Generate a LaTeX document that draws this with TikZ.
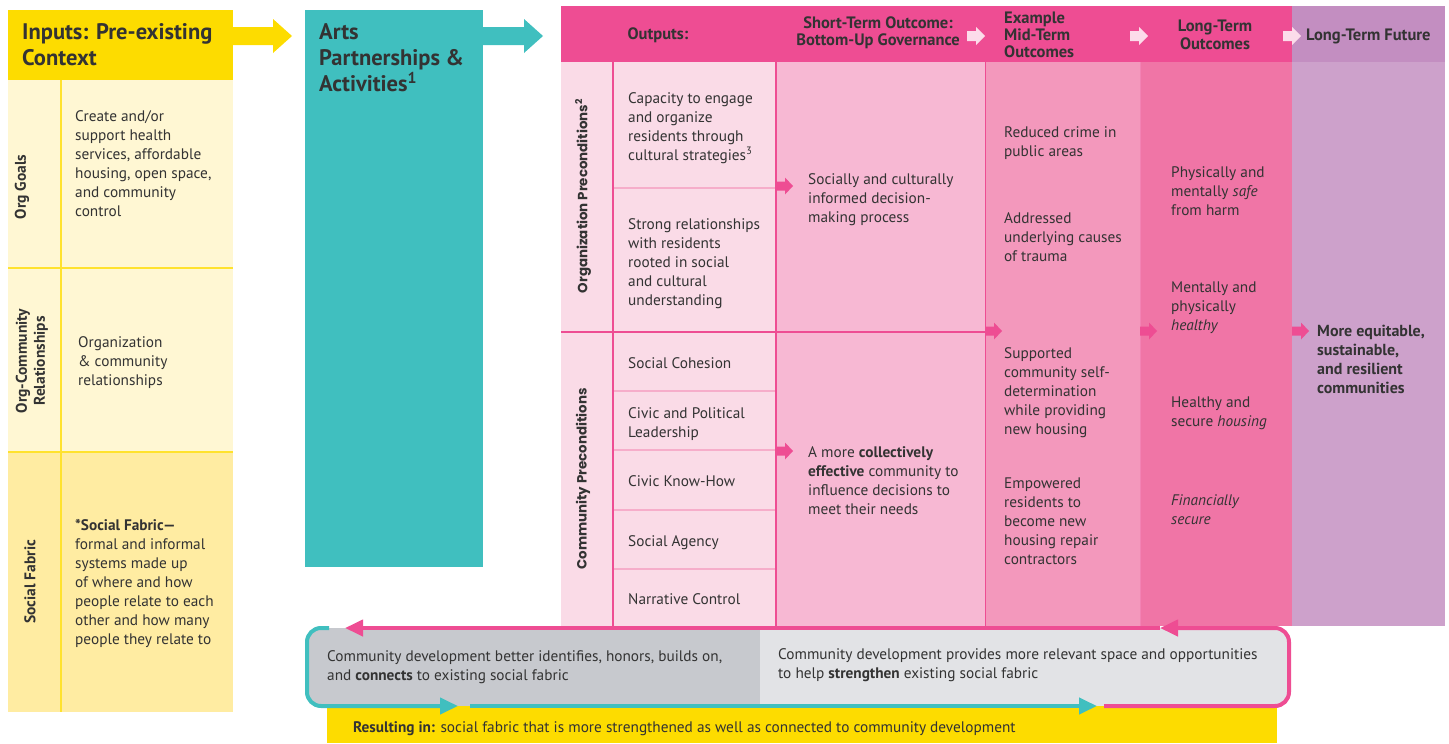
\documentclass[tikz,border=0pt]{standalone}
\usepackage{fontspec}
\setmainfont{PT Sans}
\newfontfamily\geofont{Poppins}
\usetikzlibrary{arrows.meta,calc,positioning}

\definecolor{inkgray}{HTML}{333333}
\definecolor{sunyellow}{HTML}{FDDC00}
\definecolor{paleyellow}{HTML}{FFF7D3}
\definecolor{softyellow}{HTML}{FFECA2}
\definecolor{ruleyellow}{HTML}{FFE22E}
\definecolor{aqua}{HTML}{40BFBF}
\definecolor{hotpink}{HTML}{EE4D93}
\definecolor{mauve}{HTML}{C38EC1}
\definecolor{blushA}{HTML}{FADBE7}
\definecolor{blushC}{HTML}{F7B8D3}
\definecolor{blushD}{HTML}{F398BC}
\definecolor{blushE}{HTML}{F075A6}
\definecolor{lilac}{HTML}{CDA1CB}
\definecolor{cellrule}{HTML}{F6ADCA}
\definecolor{paleblush}{HTML}{FCDCEA}
\definecolor{slate}{HTML}{C7C9CE}
\definecolor{mist}{HTML}{E2E3E6}

\begin{document}
\begin{tikzpicture}[x=1pt,y=-1pt,
	body/.style={anchor=north west,inner sep=0pt,align=left,text=inkgray,font=\fontsize{15.3}{19}\selectfont},
	boldbody/.style={body,font=\bfseries\fontsize{16}{19}\selectfont},
	headtext/.style={inner sep=0pt,text=inkgray,font=\bfseries\fontsize{16.5}{16.5}\selectfont},
	bigtitle/.style={anchor=north west,inner sep=0pt,align=left,text=inkgray,font=\bfseries\fontsize{22.5}{26}\selectfont},
	sidelabel/.style={rotate=90,inner sep=0pt,align=center,text=inkgray,font=\bfseries\fontsize{15.5}{18}\selectfont},
	precond/.style={rotate=90,inner sep=0pt,text=inkgray,font=\geofont\bfseries\fontsize{13.4}{15}\selectfont},
	loopline/.style={line width=4pt,rounded corners=14pt}]
	\useasboundingbox (0,0) rectangle (1449,744);

	%Inputs column
	\fill[sunyellow] (8,10) rectangle (233,80);
	\fill[paleyellow] (8,80) rectangle (233,452);
	\fill[softyellow] (8,452) rectangle (233,712);
	\draw[ruleyellow,line width=2pt] (61,80) -- (61,712);
	\foreach \yLine in {268,452}{
		\draw[ruleyellow,line width=2pt] (8,\yLine) -- (233,\yLine);
	}
	\node[bigtitle] (inputs) at (22,23) {Inputs: Pre-existing\\Context};
	\node[sidelabel] (orggoals) at (22,187) {Org Goals};
	\node[sidelabel] (orgcomm) at (32,361) {Org-Community\\Relationships};
	\node[sidelabel] (fabric) at (30,582) {Social Fabric};
	\node[body] (goalstext) at (75,110) {Create and/or\\support health\\services, affordable\\housing, open space,\\and community\\control};
	\node[body] (commtext) at (78,336) {Organization\\\& community\\relationships};
	\node[body] (fabrictext) at (75,519) {\textbf{*Social Fabric—}\\formal and informal\\systems made up\\of where and how\\people relate to each\\other and how many\\people they relate to};

	%big arrows
	\fill[sunyellow] (233,27) -- (273,27) -- (273,19) -- (292,36) -- (273,53) -- (273,45) -- (233,45) -- cycle;
	\fill[aqua] (483,27) -- (524,27) -- (524,19) -- (543,36) -- (524,53) -- (524,45) -- (483,45) -- cycle;

	%Arts column
	\fill[aqua] (305,10) rectangle (483,567);
	\node[bigtitle] (arts) at (319,23) {Arts\\Partnerships \&\\Activities\textsuperscript{1}};

	%header band
	\fill[hotpink] (561,6) rectangle (1292,62);
	\fill[mauve] (1292,6) rectangle (1445,62);
	\node[headtext] (outputs) at (658,35) {Outputs:};
	\node[headtext,align=center] (shortterm) at (878,33) {Short-Term Outcome:\\Bottom-Up Governance};
	\node[headtext,align=left,anchor=west,font=\bfseries\fontsize{16.5}{17}\selectfont] (midterm) at (1004,35) {Example\\Mid-Term\\Outcomes};
	\node[headtext,align=center,font=\bfseries\fontsize{16.5}{18}\selectfont] (longterm) at (1215,35) {Long-Term\\Outcomes};
	\node[headtext,anchor=west] (future) at (1306,36) {Long-Term Future};
	\foreach \xArrow in {967,1130,1283}{
		\fill[paleblush] (\xArrow,31) -- (\xArrow+9,31) -- (\xArrow+9,27) -- (\xArrow+18,36) -- (\xArrow+9,45) -- (\xArrow+9,41) -- (\xArrow,41) -- cycle;
	}

	%columns
	\fill[blushA] (561,62) rectangle (776,626);
	\fill[blushC] (776,62) rectangle (985,626);
	\fill[blushD] (985,62) rectangle (1140,626);
	\fill[blushE] (1140,62) rectangle (1292,626);
	\fill[lilac] (1292,62) rectangle (1445,626);
	\foreach \yCell in {188,391,450,510,569}{
		\draw[cellrule,line width=1.2pt] (613,\yCell) -- (776,\yCell);
	}
	\draw[hotpink,line width=1.5pt] (613,62) -- (613,626);
	\draw[hotpink,line width=1.5pt] (776,62) -- (776,626);
	\draw[hotpink,line width=1pt] (985,62) -- (985,626);
	\draw[hotpink!70,line width=1pt] (1140,62) -- (1140,626);
	\draw[hotpink,line width=1.5pt] (561,332) -- (985,332);

	%pink arrows between columns
	\foreach \xArrow/\yArrow in {776/186, 776/451, 985/331, 1140/331, 1292/331}{
		\fill[hotpink] (\xArrow,\yArrow-4.5) -- (\xArrow+9,\yArrow-4.5) -- (\xArrow+9,\yArrow-8.5) -- (\xArrow+17,\yArrow) -- (\xArrow+9,\yArrow+8.5) -- (\xArrow+9,\yArrow+4.5) -- (\xArrow,\yArrow+4.5) -- cycle;
	}

	\node[precond] (orgpre) at (583,196) {Organization Preconditions\textsuperscript{2}};
	\node[precond] (commpre) at (583,479) {Community Preconditions};

	\node[body] (capacity) at (628,92) {Capacity to engage\\and organize\\residents through\\cultural strategies\textsuperscript{3}};
	\node[body] (strong) at (628,218) {Strong relationships\\with residents\\rooted in social\\and cultural\\understanding};
	\node[body] (cohesion) at (628,357) {Social Cohesion};
	\node[body] (civic) at (628,407) {Civic and Political\\Leadership};
	\node[body] (knowhow) at (628,475) {Civic Know-How};
	\node[body] (agency) at (628,535) {Social Agency};
	\node[body] (narrative) at (628,593) {Narrative Control};

	\node[body] (informed) at (808,173) {Socially and culturally\\informed decision-\\making process};
	\node[body] (effective) at (808,446) {A more \textbf{collectively}\\\textbf{effective} community to\\influence decisions to\\meet their needs};

	\node[body] (crime) at (1004,126) {Reduced crime in\\public areas};
	\node[body] (trauma) at (1004,212) {Addressed\\underlying causes\\of trauma};
	\node[body] (selfdet) at (1004,347) {Supported\\community self-\\determination\\while providing\\new housing};
	\node[body] (repair) at (1004,478) {Empowered\\residents to\\become new\\housing repair\\contractors};

	\node[body] (safe) at (1171,166) {Physically and\\mentally \textit{safe}\\from harm};
	\node[body] (healthy) at (1171,282) {Mentally and\\physically\\\textit{healthy}};
	\node[body] (housing) at (1171,397) {Healthy and\\secure \textit{housing}};
	\node[body] (finance) at (1171,494) {\textit{Financially}\\\textit{secure}};

	\node[boldbody] (equitable) at (1317,325) {More equitable,\\sustainable,\\and resilient\\communities};

	%feedback loop
	\fill[sunyellow] (327,706) rectangle (1277,743);
	\begin{scope}
		\clip[rounded corners=14pt] (307,628) rectangle (1289,706);
		\fill[slate] (307,628) rectangle (760,706);
		\fill[mist] (760,628) rectangle (1289,706);
	\end{scope}
	\coordinate (tealstart) at (329,628);
	\coordinate (tealmid) at (458,706);
	\coordinate (tealgap) at (470,706);
	\coordinate (tealend) at (1097,706);
	\coordinate (pinkstart) at (1104,706);
	\coordinate (pinkmid) at (1160,628);
	\coordinate (pinkend) at (345,628);
	\draw[aqua,loopline,-{Triangle[length=18pt,width=16pt]}] (tealstart) -- (307,628) -- (307,706) -- (tealmid);
	\draw[aqua,line width=4pt,-{Triangle[length=18pt,width=16pt]}] (tealgap) -- (tealend);
	\draw[hotpink,loopline,-{Triangle[length=18pt,width=16pt]}] (pinkstart) -- (1289,706) -- (1289,628) -- (pinkmid);
	\draw[hotpink,line width=4pt,-{Triangle[length=18pt,width=16pt]}] (pinkmid) -- (pinkend);

	\node[body] (identifies) at (327,650) {Community development better identifies, honors, builds on,\\and \textbf{connects} to existing social fabric};
	\node[body] (provides) at (778,648) {Community development provides more relevant space and opportunities\\to help \textbf{strengthen} existing social fabric};
	\node[body] (resulting) at (353,721) {\textbf{Resulting in:} social fabric that is more strengthened as well as connected to community development};
\end{tikzpicture}
\end{document}
